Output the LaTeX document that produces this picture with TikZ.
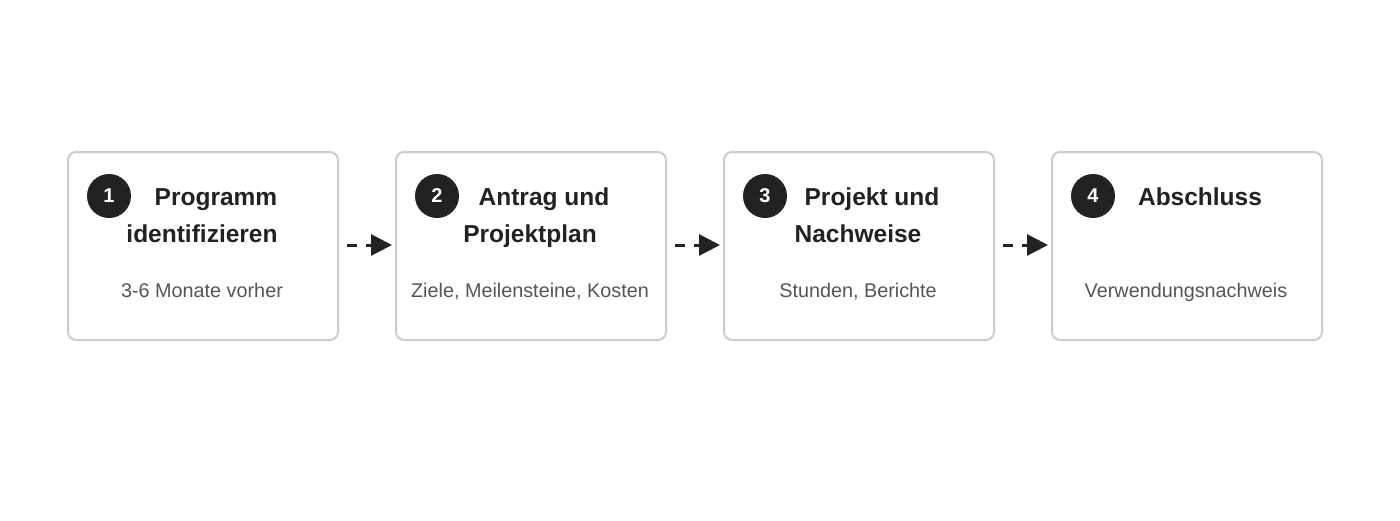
\documentclass[tikz,border=0pt]{standalone}
\usepackage{fontspec}
\setmainfont{Liberation Sans}
\usetikzlibrary{arrows.meta}
\definecolor{boxline}{HTML}{CCCCCC}
\definecolor{ink}{HTML}{222222}
\definecolor{subgray}{HTML}{555555}
\tikzset{
  stepbox/.style={draw=boxline, line width=2pt, rounded corners=8pt, fill=white,
    minimum width=270pt, minimum height=188pt, inner sep=0pt, anchor=north west},
  numdot/.style={circle, fill=ink, minimum size=44pt, inner sep=0pt, text=white,
    font=\fontsize{20}{24}\selectfont\bfseries},
  titletxt/.style={anchor=base, inner sep=0pt, text=ink, font=\fontsize{24.5}{29}\selectfont\bfseries},
  subtxt/.style={anchor=base, inner sep=0pt, text=subgray, font=\fontsize{19.8}{24}\selectfont},
  flowarrow/.style={draw=ink, line width=3pt, dash pattern=on 10pt off 9pt,
    -{Triangle[length=21pt,width=21pt]}}
}
\begin{document}
\begin{tikzpicture}[x=1pt,y=-1pt]
\useasboundingbox (0,0) rectangle (1400,520);
% boxes
\node[stepbox] (b1) at (67,151) {};
\node[stepbox] (b2) at (395,151) {};
\node[stepbox] (b3) at (723,151) {};
\node[stepbox] (b4) at (1051,151) {};
% number circles
\node[numdot] (n1) at (109,196) {1};
\node[numdot] (n2) at (437,196) {2};
\node[numdot] (n3) at (765,196) {3};
\node[numdot] (n4) at (1093,196) {4};
% titles
\node[titletxt] (t1a) at (216,205) {Programm};
\node[titletxt] (t1b) at (202,242) {identifizieren};
\node[titletxt] (t2a) at (544,205) {Antrag und};
\node[titletxt] (t2b) at (530,242) {Projektplan};
\node[titletxt] (t3a) at (872,205) {Projekt und};
\node[titletxt] (t3b) at (858,242) {Nachweise};
\node[titletxt] (t4a) at (1200,205) {Abschluss};
% subtitles
\node[subtxt] (s1) at (202,297) {3-6 Monate vorher};
\node[subtxt] (s2) at (530,297) {Ziele, Meilensteine, Kosten};
\node[subtxt] (s3) at (858,297) {Stunden, Berichte};
\node[subtxt] (s4) at (1186,297) {Verwendungsnachweis};
% arrows
\draw[flowarrow] ([xshift=8pt,yshift=1pt]b1.east) -- ([xshift=-3pt,yshift=1pt]b2.west);
\draw[flowarrow] ([xshift=8pt,yshift=1pt]b2.east) -- ([xshift=-3pt,yshift=1pt]b3.west);
\draw[flowarrow] ([xshift=8pt,yshift=1pt]b3.east) -- ([xshift=-3pt,yshift=1pt]b4.west);
\end{tikzpicture}
\end{document}
